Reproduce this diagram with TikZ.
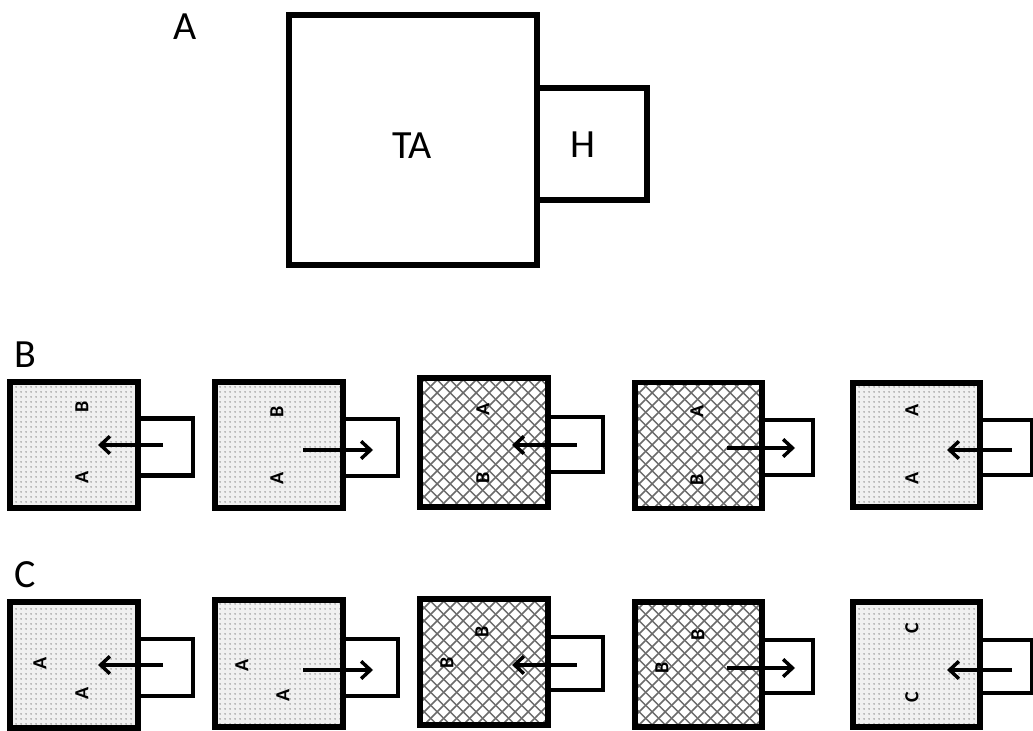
\documentclass[tikz,border=0pt]{standalone}
\usepackage{fontspec}
\setmainfont{Carlito}
\usetikzlibrary{arrows.meta,patterns.meta}

% diagonal grid used for the cross-hatched chambers
\pgfdeclarepattern{
  name=hatchgrid,
  type=uncolored,
  bottom left={\pgfpoint{0pt}{0pt}},
  top right={\pgfpoint{9.5pt}{9.5pt}},
  tile size={\pgfpoint{9.5pt}{9.5pt}},
  code={
    \pgfsetlinewidth{1.1pt}
    \pgfpathmoveto{\pgfpoint{-1pt}{-1pt}}\pgfpathlineto{\pgfpoint{10.5pt}{10.5pt}}
    \pgfpathmoveto{\pgfpoint{-1pt}{10.5pt}}\pgfpathlineto{\pgfpoint{10.5pt}{-1pt}}
    \pgfusepath{stroke}
  }
}
% fine stipple used for the dotted chambers
\pgfdeclarepattern{
  name=finedots,
  type=uncolored,
  bottom left={\pgfpoint{0pt}{0pt}},
  top right={\pgfpoint{3.4pt}{3.4pt}},
  tile size={\pgfpoint{3.4pt}{3.4pt}},
  code={
    \pgfpathcircle{\pgfpoint{1.7pt}{1.7pt}}{0.65pt}
    \pgfusepath{fill}
  }
}

\tikzset{
  bigbox/.style={draw, line width=3.8pt, inner sep=0pt, outer sep=0pt,
    minimum width=96pt, minimum height=94.5pt},
  tabbox/.style={draw, fill=white, line width=3.2pt, inner sep=0pt, outer sep=0pt,
    minimum width=41.25pt, minimum height=42.75pt},
  dotfill/.style={preaction={fill=black!6}, pattern=finedots, pattern color=black!48},
  hatchfill/.style={preaction={fill=white}, pattern=hatchgrid, pattern color=black!58},
  flowarrow/.style={line width=2.6pt, -{Straight Barb[length=7pt,width=13pt]}},
  animal/.style={font=\fontsize{15}{15}\selectfont\bfseries, rotate=90, inner sep=0pt},
  panellabel/.style={font=\fontsize{30}{30}\selectfont, inner sep=0pt},
  biglabel/.style={font=\fontsize{30}{30}\selectfont, inner sep=0pt}
}

\begin{document}
\begin{tikzpicture}[x=0.75pt, y=-0.75pt]
\useasboundingbox (0,0) rectangle (1033,731);

% ---------- panel A: test arena with home box ----------
\node[panellabel] (labA) at (185,27) {A};
\node[draw, fill=white, line width=3.8pt, inner sep=0pt,
      minimum width=82.5pt, minimum height=84pt] (home) at (592,144) {};
\node[draw, line width=3.8pt, inner sep=0pt,
      minimum width=186pt, minimum height=187.5pt] (arena) at (413,140) {};
\node[biglabel] (ta) at (412,146) {TA};
\node[biglabel] (h) at (583,145) {H};

% ---------- panel B ----------
\node[panellabel] (labB) at (25,355) {B};

% B1
\node[tabbox] (b1t) at (165.5,447) {};
\node[bigbox, dotfill] (b1) at (74,445) {};
\node[animal] (b1x) at (82,407) {B};
\node[animal] (b1y) at (82,477) {A};
\coordinate (b1s) at (163,445); \coordinate (b1e) at (98,445);
\draw[flowarrow] (b1s) -- (b1e);

% B2
\node[tabbox] (b2t) at (370.5,447.5) {};
\node[bigbox, dotfill] (b2) at (279,445) {};
\node[animal] (b2x) at (277,412) {B};
\node[animal] (b2y) at (277,478) {A};
\coordinate (b2s) at (303,450); \coordinate (b2e) at (373,450);
\draw[flowarrow] (b2s) -- (b2e);

% B3
\node[tabbox, minimum height=41.25pt] (b3t) at (575.5,444.5) {};
\node[bigbox, hatchfill, minimum height=96.75pt] (b3) at (484,442.5) {};
\node[animal] (b3x) at (483,409) {A};
\node[animal] (b3y) at (483,478) {B};
\coordinate (b3s) at (577,445); \coordinate (b3e) at (512,445);
\draw[flowarrow] (b3s) -- (b3e);

% B4
\node[tabbox, minimum width=38.25pt, minimum height=41.25pt] (b4t) at (787.5,447.5) {};
\node[bigbox, hatchfill, minimum width=95.25pt] (b4) at (698.5,445.5) {};
\node[animal] (b4x) at (697,411) {A};
\node[animal] (b4y) at (697,480) {B};
\coordinate (b4s) at (727,448); \coordinate (b4e) at (795,448);
\draw[flowarrow] (b4s) -- (b4e);

% B5
\node[tabbox, minimum width=39pt, minimum height=41.25pt] (b5t) at (1006,447.5) {};
\node[bigbox, dotfill, minimum width=95.25pt, minimum height=93pt] (b5) at (916.5,445) {};
\node[animal] (b5x) at (912,410) {A};
\node[animal] (b5y) at (912,478) {A};
\coordinate (b5s) at (1012,450); \coordinate (b5e) at (947,450);
\draw[flowarrow] (b5s) -- (b5e);

% ---------- panel C ----------
\node[panellabel] (labC) at (25,575) {C};

% C1
\node[tabbox] (c1t) at (165.5,667.5) {};
\node[bigbox, dotfill] (c1) at (74,665) {};
\node[animal] (c1x) at (40,663) {A};
\node[animal] (c1y) at (82,693) {A};
\coordinate (c1s) at (163,665); \coordinate (c1e) at (98,665);
\draw[flowarrow] (c1s) -- (c1e);

% C2
\node[tabbox] (c2t) at (370.5,667.5) {};
\node[bigbox, dotfill, minimum height=95.25pt] (c2) at (279,663.5) {};
\node[animal] (c2x) at (242,665) {A};
\node[animal] (c2y) at (283,695) {A};
\coordinate (c2s) at (303,670); \coordinate (c2e) at (373,670);
\draw[flowarrow] (c2s) -- (c2e);

% C3
\node[tabbox, minimum height=39.75pt] (c3t) at (575.5,663.5) {};
\node[bigbox, hatchfill] (c3) at (484,662) {};
\node[animal] (c3x) at (482,632) {B};
\node[animal] (c3y) at (447,663) {B};
\coordinate (c3s) at (577,665); \coordinate (c3e) at (512,665);
\draw[flowarrow] (c3s) -- (c3e);

% C4
\node[tabbox, minimum width=38.25pt, minimum height=39.75pt] (c4t) at (787.5,666.5) {};
\node[bigbox, hatchfill, minimum width=95.25pt, minimum height=93.75pt] (c4) at (698.5,664.5) {};
\node[animal] (c4x) at (698,635) {B};
\node[animal] (c4y) at (662,668) {B};
\coordinate (c4s) at (727,668); \coordinate (c4e) at (795,668);
\draw[flowarrow] (c4s) -- (c4e);

% C5
\node[tabbox, minimum width=39pt, minimum height=39.75pt] (c5t) at (1006,666.5) {};
\node[bigbox, dotfill, minimum width=95.25pt, minimum height=93.75pt] (c5) at (916.5,664.5) {};
\node[animal] (c5x) at (912,628) {C};
\node[animal] (c5y) at (912,697) {C};
\coordinate (c5s) at (1012,670); \coordinate (c5e) at (947,670);
\draw[flowarrow] (c5s) -- (c5e);

\end{tikzpicture}
\end{document}
